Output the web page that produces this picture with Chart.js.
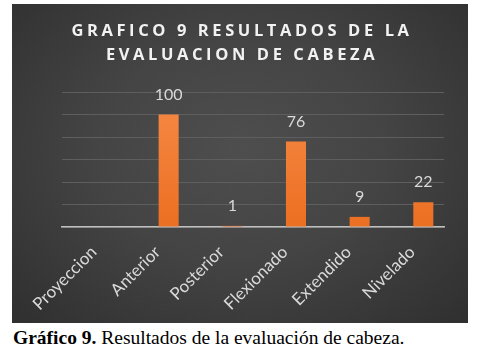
<!DOCTYPE html>
<html>
<head>
<meta charset="utf-8">
<script src="https://cdn.jsdelivr.net/npm/chart.js@4.4.1/dist/chart.umd.min.js"></script>
<style>
  body { margin: 0; background: #fff; width: 487px; height: 352px; position: relative; overflow: hidden; }
  #panel {
    position: absolute; left: 12px; top: 4px; width: 456px; height: 319px;
    background: radial-gradient(ellipse at 50% 45%, #4e4e4e 0%, #444 45%, #2f2f2f 100%);
  }
  #caption {
    position: absolute; left: 13px; top: 327px;
    font-family: "Liberation Serif", "Times New Roman", serif; font-size: 19.5px; color: #000;
    white-space: nowrap;
  }
</style>
</head>
<body>
<div id="panel"><canvas id="grafico" width="456" height="319"></canvas></div>
<div id="caption"><b>Gráfico 9.</b> Resultados de la evaluación de cabeza.</div>
<script>
// datos del grafico 9
const categorias = ["Proyeccion", "Anterior", "Posterior", "Flexionado", "Extendido", "Nivelado"];
const resultados = [null, 100, 1, 76, 9, 22];
const serieVacia = []; // la serie 1 del original esta vacia, solo ocupa el hueco
const ticksY = [0, 20, 40, 60, 80, 100, 120];

// el titulo va con letras separadas y centrado en todo el panel
const espaciado = {
  id: "espaciado",
  beforeDraw(chart) {
    const tb = chart.titleBlock;
    if (tb && !tb._esp) {
      const orig = tb.draw.bind(tb);
      tb.draw = function () {
        chart.ctx.save();
        chart.ctx.letterSpacing = "3.6px";
        chart.ctx.translate(-11, 0);
        orig();
        chart.ctx.restore();
      };
      tb._esp = true;
    }
  }
};

// etiquetas de valor encima de cada barra
const etiquetas = {
  id: "etiquetas",
  afterDatasetsDraw(chart) {
    const ctx = chart.ctx;
    const meta = chart.getDatasetMeta(1);
    ctx.save();
    ctx.font = "16px Lato";
    ctx.fillStyle = "#d9d9d9";
    ctx.textAlign = "center";
    ctx.textBaseline = "middle";
    meta.data.forEach((bar, i) => {
      const v = resultados[i];
      if (v == null) return;
      ctx.fillText(String(v), bar.x, bar.y - 20);
    });
    ctx.restore();
  }
};

function naranja(c) {
  const area = c.chart.chartArea;
  if (!area) return "#f07b33";
  const g = c.chart.ctx.createLinearGradient(0, area.top, 0, area.bottom);
  g.addColorStop(0, "#f68a46");
  g.addColorStop(1, "#ec6f22");
  return g;
}

new Chart(document.getElementById("grafico"), {
  type: "bar",
  data: {
    labels: categorias,
    datasets: [
      { label: "Serie1", data: serieVacia, backgroundColor: "transparent" },
      { label: "Serie2", data: resultados, backgroundColor: naranja }
    ]
  },
  options: {
    responsive: false,
    animation: false,
    categoryPercentage: 0.7,
    barPercentage: 0.9,
    layout: { padding: { left: 50, right: 24, top: 0, bottom: 0 } },
    plugins: {
      legend: { display: false },
      tooltip: { enabled: false },
      title: {
        display: true,
        text: ["GRAFICO 9 RESULTADOS DE LA", "EVALUACION DE CABEZA"],
        color: "#f2f2f2",
        font: { family: "Open Sans", size: 16.5, weight: "bold", lineHeight: 24.5 / 16.5 },
        padding: { top: 14.75, bottom: 24.25 }
      }
    },
    scales: {
      x: {
        grid: { display: false, drawTicks: false },
        border: { color: "#bfbfbf", width: 1.5 },
        ticks: {
          color: "#d9d9d9",
          font: { family: "Lato", size: 17 },
          minRotation: 45,
          maxRotation: 45,
          padding: 15
        },
        afterFit(s) { s.height = 96; }
      },
      y: {
        min: 0,
        max: 120,
        afterBuildTicks(s) { s.ticks = ticksY.map(v => ({ value: v })); },
        ticks: { display: false },
        grid: { color: "#5e5e5e", lineWidth: 1, drawTicks: false },
        border: { display: false },
        afterFit(s) { s.width = 0; }
      }
    }
  },
  plugins: [espaciado, etiquetas]
});
</script>
</body>
</html>
